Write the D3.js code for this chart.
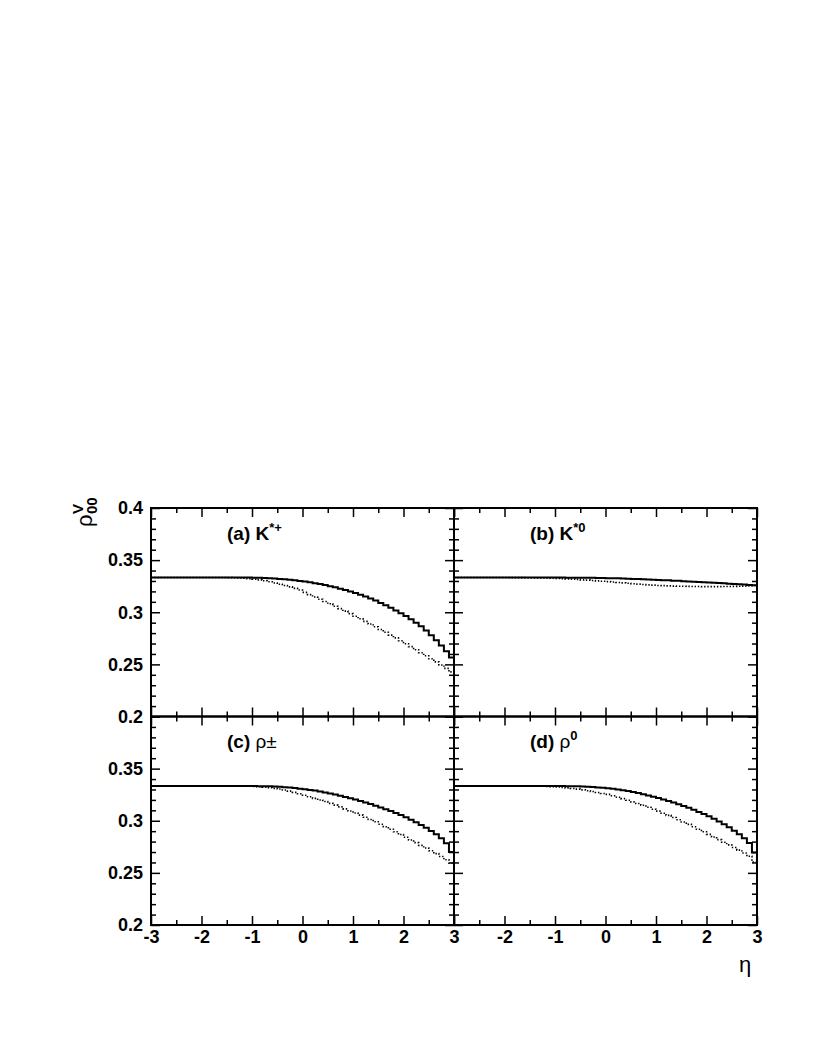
<!DOCTYPE html>
<html><head><meta charset="utf-8">
<script src="https://cdn.jsdelivr.net/npm/d3@7"></script>
<style>body{margin:0;background:#fff}</style>
</head><body>
<svg id="c" width="817" height="1058" xmlns="http://www.w3.org/2000/svg"></svg>
<script>
// ---- data ----
const etaEdges = d3.range(61).map(i => +(-3 + i * 0.1).toFixed(1));
const xTicksMajor = [-3, -2, -1, 0, 1, 2, 3];
const xTicksMinor = [-2.5, -1.5, -0.5, 0.5, 1.5, 2.5];
const yTicksMajor = [0.2, 0.25, 0.3, 0.35, 0.4];
const yTicksMinor = [0.21,0.22,0.23,0.24,0.26,0.27,0.28,0.29,0.31,0.32,0.33,0.34,0.36,0.37,0.38,0.39];

const aSolid = [0.3333,0.3333,0.3333,0.3333,0.3333,0.3333,0.3333,0.3333,0.3333,0.3333,
0.3333,0.3333,0.3333,0.3333,0.3333,0.3333,0.3333,0.3333,0.3333,0.3333,
0.3332,0.3331,0.3329,0.3327,0.3324,0.3320,0.3316,0.3311,0.3306,0.3300,
0.3294,0.3287,0.3279,0.3270,0.3261,0.3250,0.3239,0.3226,0.3213,0.3199,
0.3184,0.3168,0.3151,0.3133,0.3112,0.3089,0.3066,0.3042,0.3017,0.2991,
0.2963,0.2933,0.2900,0.2865,0.2825,0.2780,0.2732,0.2680,0.2625,0.2565];
const aDotted = [0.3333,0.3333,0.3333,0.3333,0.3333,0.3333,0.3333,0.3333,0.3333,0.3333,
0.3333,0.3333,0.3333,0.3333,0.3333,0.3332,0.3331,0.3330,0.3327,0.3323,
0.3318,0.3311,0.3302,0.3292,0.3281,0.3269,0.3256,0.3243,0.3229,0.3213,
0.3191,0.3169,0.3147,0.3125,0.3103,0.3081,0.3058,0.3035,0.3011,0.2987,
0.2962,0.2937,0.2912,0.2887,0.2861,0.2835,0.2808,0.2781,0.2754,0.2726,
0.2698,0.2670,0.2641,0.2612,0.2583,0.2554,0.2524,0.2494,0.2462,0.2428];
const bSolid = [0.3333,0.3333,0.3333,0.3333,0.3333,0.3333,0.3333,0.3333,0.3333,0.3333,
0.3333,0.3333,0.3333,0.3333,0.3333,0.3333,0.3333,0.3333,0.3333,0.3333,
0.3333,0.3333,0.3332,0.3332,0.3332,0.3331,0.3331,0.3330,0.3329,0.3328,
0.3327,0.3326,0.3325,0.3323,0.3322,0.3320,0.3318,0.3316,0.3314,0.3312,
0.3310,0.3308,0.3306,0.3303,0.3301,0.3298,0.3296,0.3293,0.3291,0.3288,
0.3285,0.3282,0.3280,0.3277,0.3274,0.3271,0.3268,0.3265,0.3262,0.3259];
const bDotted = [0.3333,0.3333,0.3333,0.3333,0.3333,0.3333,0.3333,0.3333,0.3333,0.3333,
0.3333,0.3332,0.3332,0.3332,0.3331,0.3331,0.3330,0.3329,0.3328,0.3326,
0.3324,0.3322,0.3320,0.3317,0.3314,0.3311,0.3308,0.3305,0.3301,0.3298,
0.3294,0.3290,0.3286,0.3282,0.3278,0.3274,0.3270,0.3266,0.3263,0.3260,
0.3257,0.3255,0.3253,0.3251,0.3250,0.3249,0.3248,0.3247,0.3247,0.3246,
0.3246,0.3246,0.3246,0.3247,0.3247,0.3248,0.3249,0.3251,0.3253,0.3256];
const cSolid = [0.3333,0.3333,0.3333,0.3333,0.3333,0.3333,0.3333,0.3333,0.3333,0.3333,
0.3333,0.3333,0.3333,0.3333,0.3333,0.3333,0.3333,0.3333,0.3333,0.3333,
0.3333,0.3332,0.3331,0.3330,0.3328,0.3325,0.3322,0.3318,0.3313,0.3308,
0.3302,0.3296,0.3289,0.3281,0.3272,0.3262,0.3252,0.3241,0.3229,0.3217,
0.3204,0.3190,0.3176,0.3161,0.3145,0.3128,0.3111,0.3093,0.3074,0.3054,
0.3033,0.3010,0.2986,0.2960,0.2932,0.2901,0.2870,0.2832,0.2785,0.2700];
const cDotted = [0.3333,0.3333,0.3333,0.3333,0.3333,0.3333,0.3333,0.3333,0.3333,0.3333,
0.3333,0.3333,0.3333,0.3333,0.3333,0.3333,0.3333,0.3333,0.3332,0.3331,
0.3329,0.3326,0.3322,0.3317,0.3311,0.3304,0.3295,0.3284,0.3272,0.3259,
0.3245,0.3230,0.3215,0.3199,0.3184,0.3167,0.3150,0.3133,0.3114,0.3094,
0.3074,0.3054,0.3033,0.3012,0.2990,0.2967,0.2943,0.2919,0.2894,0.2868,
0.2842,0.2816,0.2790,0.2764,0.2738,0.2712,0.2685,0.2657,0.2626,0.2592];
const dSolid = [0.3333,0.3333,0.3333,0.3333,0.3333,0.3333,0.3333,0.3333,0.3333,0.3333,
0.3333,0.3333,0.3333,0.3333,0.3333,0.3333,0.3333,0.3333,0.3333,0.3333,
0.3333,0.3333,0.3332,0.3331,0.3330,0.3328,0.3326,0.3323,0.3320,0.3316,
0.3311,0.3306,0.3300,0.3293,0.3285,0.3276,0.3266,0.3255,0.3243,0.3231,
0.3218,0.3204,0.3190,0.3175,0.3159,0.3142,0.3124,0.3105,0.3085,0.3064,
0.3042,0.3018,0.2993,0.2966,0.2937,0.2905,0.2870,0.2832,0.2786,0.2695];
const dDotted = [0.3333,0.3333,0.3333,0.3333,0.3333,0.3333,0.3333,0.3333,0.3333,0.3333,
0.3333,0.3333,0.3333,0.3333,0.3333,0.3333,0.3332,0.3331,0.3329,0.3327,
0.3324,0.3320,0.3315,0.3309,0.3303,0.3296,0.3288,0.3280,0.3271,0.3262,
0.3253,0.3240,0.3226,0.3212,0.3197,0.3181,0.3165,0.3148,0.3130,0.3111,
0.3092,0.3072,0.3052,0.3031,0.3010,0.2988,0.2965,0.2942,0.2918,0.2894,
0.2869,0.2844,0.2819,0.2794,0.2769,0.2744,0.2718,0.2691,0.2660,0.2605];

const panelLabels = ["(a)", "(b)", "(c)", "(d)"];

// ---- layout ----
const svg = d3.select("#c");
const FONT = "'Liberation Sans', Arial, Helvetica, sans-serif";
const colX = [151, 454], pw = 303;
const rowY = [508, 716.5], ph = 208.5;

const panels = [
  {solid: aSolid, dotted: aDotted, col: 0, row: 0},
  {solid: bSolid, dotted: bDotted, col: 1, row: 0},
  {solid: cSolid, dotted: cDotted, col: 0, row: 1},
  {solid: dSolid, dotted: dDotted, col: 1, row: 1},
];

const fmtY = d => String(+d.toFixed(2));
const fmtX = d => String(d);

panels.forEach((p, idx) => {
  const x0 = colX[p.col], y0 = rowY[p.row];
  const x = d3.scaleLinear().domain([-3, 3]).range([x0, x0 + pw]);
  const y = d3.scaleLinear().domain([0.2, 0.4]).range([y0 + ph, y0]);
  const g = svg.append("g");

  // histograms
  const pts = (vals) => etaEdges.map((e, i) => [e, vals[Math.min(i, vals.length - 1)]]);
  const line = d3.line().x(d => x(d[0])).y(d => y(d[1])).curve(d3.curveStepAfter);
  g.append("path").attr("d", line(pts(p.dotted))).attr("fill", "none")
    .attr("stroke", "#000").attr("stroke-width", 1.6).attr("stroke-dasharray", "1.4 1.8");
  g.append("path").attr("d", line(pts(p.solid))).attr("fill", "none")
    .attr("stroke", "#000").attr("stroke-width", 2);

  const styleAxis = (sel) => {
    sel.select(".domain").remove();
    sel.selectAll("line").attr("stroke", "#000").attr("stroke-width", 1.5);
    sel.selectAll("text").attr("font-family", FONT).attr("font-weight", "bold")
      .attr("font-size", 18).attr("fill", "#000");
  };

  // left
  const showYLab = p.col === 0;
  g.append("g").attr("transform", `translate(${x0},0)`)
    .call(d3.axisLeft(y).tickValues(yTicksMajor).tickSize(-9).tickPadding(8)
      .tickFormat(d => (showYLab && !(p.row === 1 && d === 0.4)) ? fmtY(d) : ""))
    .call(styleAxis);
  g.append("g").attr("transform", `translate(${x0},0)`)
    .call(d3.axisLeft(y).tickValues(yTicksMinor).tickSize(-5).tickFormat(""))
    .call(styleAxis);
  // right
  g.append("g").attr("transform", `translate(${x0 + pw},0)`)
    .call(d3.axisRight(y).tickValues(yTicksMajor).tickSize(-9).tickFormat(""))
    .call(styleAxis);
  g.append("g").attr("transform", `translate(${x0 + pw},0)`)
    .call(d3.axisRight(y).tickValues(yTicksMinor).tickSize(-5).tickFormat(""))
    .call(styleAxis);
  // bottom
  const showXLab = p.row === 1;
  g.append("g").attr("transform", `translate(0,${y0 + ph})`)
    .call(d3.axisBottom(x).tickValues(xTicksMajor).tickSize(-9).tickPadding(5)
      .tickFormat(d => (showXLab && !(p.col === 1 && d === -3)) ? fmtX(d) : ""))
    .call(styleAxis);
  g.append("g").attr("transform", `translate(0,${y0 + ph})`)
    .call(d3.axisBottom(x).tickValues(xTicksMinor).tickSize(-5).tickFormat(""))
    .call(styleAxis);
  // top
  g.append("g").attr("transform", `translate(0,${y0})`)
    .call(d3.axisTop(x).tickValues(xTicksMajor).tickSize(-9).tickFormat(""))
    .call(styleAxis);
  g.append("g").attr("transform", `translate(0,${y0})`)
    .call(d3.axisTop(x).tickValues(xTicksMinor).tickSize(-5).tickFormat(""))
    .call(styleAxis);

  // frame
  g.append("rect").attr("x", x0).attr("y", y0).attr("width", pw).attr("height", ph)
    .attr("fill", "none").attr("stroke", "#000").attr("stroke-width", 2);

  // panel label
  const t = g.append("text").attr("x", x0 + 76).attr("y", y0 + (p.row === 0 ? 32 : 31))
    .attr("font-family", FONT).attr("font-size", 19).attr("fill", "#000");
  t.append("tspan").attr("font-weight", "bold").text(panelLabels[idx] + " ");
  if (idx === 0) {
    t.append("tspan").attr("font-weight", "bold").text("K");
    t.append("tspan").attr("font-weight", "bold").attr("font-size", 13).attr("dy", -8).text("*+");
  } else if (idx === 1) {
    t.append("tspan").attr("font-weight", "bold").text("K");
    t.append("tspan").attr("font-weight", "bold").attr("font-size", 13).attr("dy", -8).text("*0");
  } else if (idx === 2) {
    t.append("tspan").text("ρ±");
  } else {
    t.append("tspan").text("ρ");
    t.append("tspan").attr("font-weight", "bold").attr("font-size", 13).attr("dy", -8).text("0");
  }
});

// y title
const yt = svg.append("g").attr("transform", "translate(92,527) rotate(-90)");
yt.append("text").attr("x", 0).attr("y", 0).attr("font-family", FONT).attr("font-size", 22).text("ρ");
yt.append("text").attr("x", 13).attr("y", -9).attr("font-family", FONT).attr("font-weight", "bold").attr("font-size", 15).text("V");
yt.append("text").attr("x", 13).attr("y", 5).attr("font-family", FONT).attr("font-weight", "bold").attr("font-size", 15).text("00");

// x title
svg.append("text").attr("x", 739).attr("y", 972).attr("font-family", FONT)
  .attr("font-size", 22).text("η");
</script>
</body></html>
